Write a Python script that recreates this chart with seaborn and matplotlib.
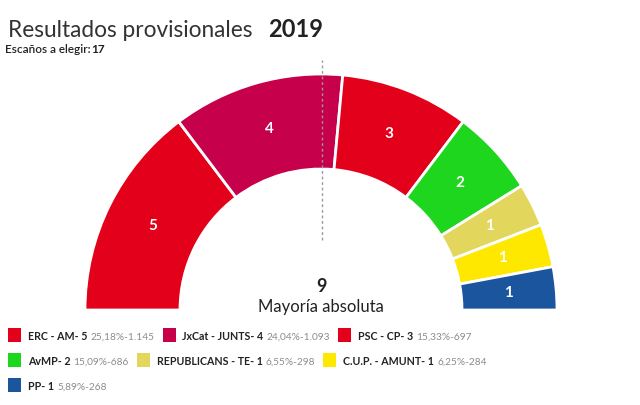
import numpy as np
import matplotlib
matplotlib.use("Agg")
import matplotlib.pyplot as plt
from matplotlib.patches import Wedge, Rectangle
import seaborn as sns

# data
parties = ["ERC - AM", "JxCat - JUNTS", "PSC - CP", "AvMP", "REPUBLICANS - TE", "C.U.P. - AMUNT", "PP"]
seats = [5, 4, 3, 2, 1, 1, 1]
pcts = [25.18, 24.04, 15.33, 15.09, 6.55, 6.25, 5.89]
votes = [1145, 1093, 697, 686, 298, 284, 268]
colors = ["#e3001b", "#c6004b", "#e3001b", "#1fd61f", "#e2d65c", "#ffe800", "#1b559e"]
total_seats = 17
majority = 9
year = "2019"

sns.set_theme(style="white")
plt.rcParams["font.family"] = ["Lato", "DejaVu Sans"]

W, H = 640, 405
fig = plt.figure(figsize=(6.4, 4.05), dpi=100)
ax = fig.add_axes([0, 0, 1, 1])
ax.set_xlim(0, W)
ax.set_ylim(0, H)
ax.axis("off")

# hemicycle
cx, cy, R, ring = 321, 95, 236, 95
start = 180.0
for n, c in zip(seats, colors):
    span = n * 180.0 / total_seats
    ax.add_patch(Wedge((cx, cy), R, start - span, start, width=ring,
                       facecolor=c, edgecolor="white", linewidth=2))
    mid = np.radians(start - span / 2)
    rr = R - ring / 2
    ax.text(cx + rr * np.cos(mid), cy + rr * np.sin(mid), str(n), color="white",
            fontweight="bold", fontsize=11, ha="center", va="center")
    start -= span

# majority line
ax.plot([cx + 1, cx + 1], [H - 240, H - 60], ls=(0, (2, 2)), color="#9a9a9a", lw=1, zorder=5)
ax.text(cx, H - 292, str(majority), fontweight="bold", fontsize=13, ha="center", va="baseline", color="#222222")
ax.text(cx, H - 312, "Mayoría absoluta", fontsize=12, ha="center", va="baseline", color="#222222")

renderer = fig.canvas.get_renderer()


def put(x, y, s, **kw):
    t = ax.text(x, H - y, s, va="baseline", **kw)
    return t.get_window_extent(renderer).x1


# title
x = put(8, 37, "Resultados provisionales", fontsize=16.3, fontweight="normal", color="#333333")
put(x + 16, 37, year, fontsize=17, fontweight="bold", color="#222222")
x = put(5, 53, "Escaños a elegir:", fontsize=8.5, fontweight="semibold", color="#222222")
put(x + 1, 53, str(total_seats), fontsize=8.5, fontweight="bold", color="#222222")

# legend, three per row
rows_y = [340, 365, 390]
for i, (p, n, pc, v, c) in enumerate(zip(parties, seats, pcts, votes, colors)):
    row, col = divmod(i, 3)
    y = rows_y[row]
    if col == 0:
        x = 8
    ax.add_patch(Rectangle((x, H - y - 2), 13, 14, facecolor=c, edgecolor="none"))
    x = put(x + 20, y, f"{p}- {n}", fontsize=7.7, fontweight="bold", color="#222222")
    info = f"{pc:.2f}".replace(".", ",") + "%-" + f"{v:,}".replace(",", ".")
    x = put(x + 3, y, info, fontsize=7.3, color="#8c8c8c")
    x += 8

fig.savefig("out.png", dpi=100, facecolor="white")
